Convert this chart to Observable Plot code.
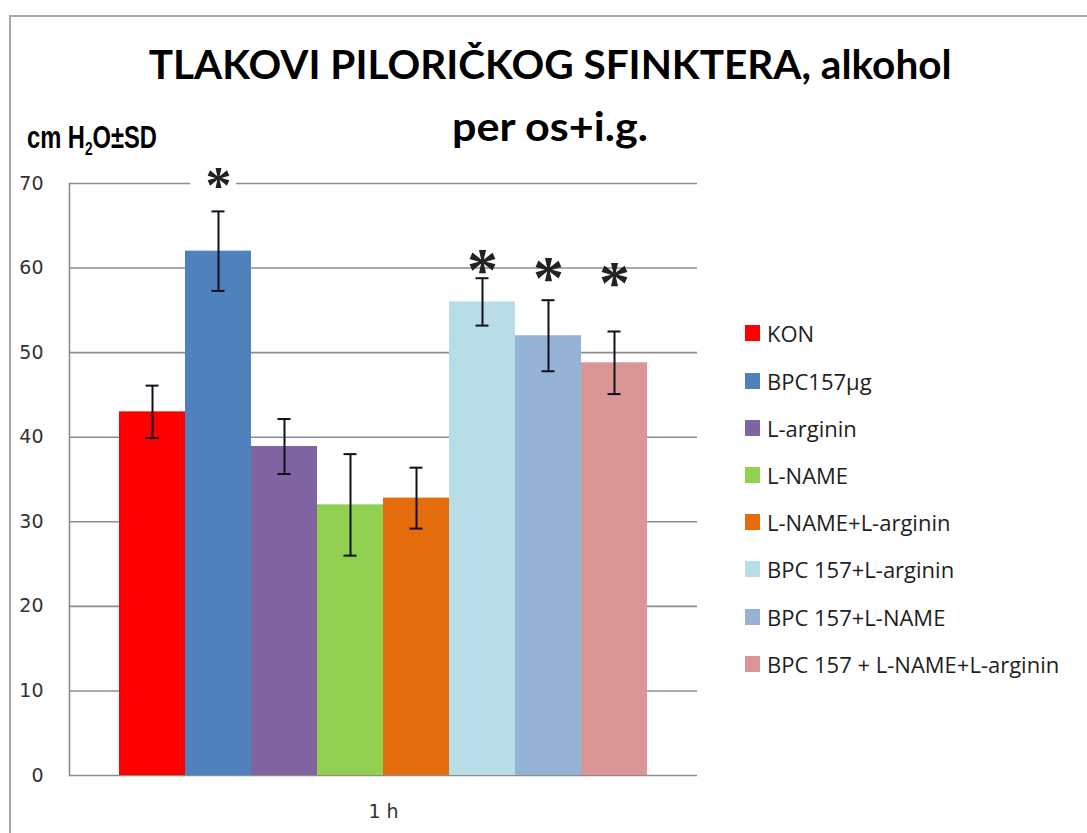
<!DOCTYPE html>
<html>
<head>
<meta charset="utf-8">
<script src="https://cdn.jsdelivr.net/npm/d3@7"></script>
<script src="https://cdn.jsdelivr.net/npm/@observablehq/plot@0.6"></script>
<style>
  body { margin: 0; background: #fff; }
  #wrap { position: relative; width: 1087px; height: 833px; overflow: hidden; background: #fff; }
  #frame { position: absolute; left: 9px; top: 15px; width: 1200px; height: 1000px;
           border-left: 2px solid #a6a6a6; border-top: 2px solid #a6a6a6; }
  #chart { position: absolute; left: 0; top: 150px; }
  .ttl { position: absolute; left: 0; width: 1101px; text-align: center; white-space: nowrap;
         font-family: Lato, "Open Sans", sans-serif; font-weight: 700; font-size: 40px; line-height: 40px; color: #000; }
  .ttl span { display: inline-block; transform-origin: 50% 50%; }
  #unit { position: absolute; left: 27px; top: 122px; white-space: nowrap; transform-origin: 0 50%;
          font-family: "Liberation Sans", Arial, sans-serif; font-weight: 700; font-size: 31px; line-height: 31px; color: #000; }
  #unit sub { font-size: 18px; vertical-align: -7px; line-height: 0; }
  #legend { position: absolute; left: 745px; top: 0; font-family: "Open Sans", sans-serif; font-size: 22px; color: #1e1e1e; }
  .row { position: absolute; left: 0; height: 20px; display: flex; align-items: center; white-space: nowrap; }
  .sw { width: 15px; height: 16px; margin-right: 7px; flex: none; }
</style>
</head>
<body>
<div id="wrap">
  <div id="frame"></div>
  <div id="chart"></div>
  <div class="ttl" style="top:44px"><span id="t1">TLAKOVI PILORIČKOG SFINKTERA, alkohol</span></div>
  <div class="ttl" style="top:106px;width:1099px"><span id="t2">per os+i.g.</span></div>
  <div id="unit">cm H<sub>2</sub>O±SD</div>
  <div id="legend"></div>
</div>
<script>
// ---- data ----
const groups = ["KON", "BPC157μg", "L-arginin", "L-NAME", "L-NAME+L-arginin",
                "BPC 157+L-arginin", "BPC 157+L-NAME", "BPC 157 + L-NAME+L-arginin"];
const means = [43, 62, 38.9, 32, 32.8, 56, 52, 48.8];
const sds = [3.1, 4.7, 3.25, 6, 3.6, 2.8, 4.2, 3.7];
const colors = ["#ff0000", "#4f81bd", "#8064a2", "#92d050", "#e46c0a", "#b7dee8", "#95b3d7", "#d99694"];
const timeLabel = ["1 h"];
const yTicks = [0, 10, 20, 30, 40, 50, 60, 70];
const starGroups = ["BPC157μg", "BPC 157+L-arginin", "BPC 157+L-NAME", "BPC 157 + L-NAME+L-arginin"];
const starY = [71.2, 61.3, 60.3, 59.7];

const data = groups.map((g, i) => ({time: timeLabel[0], group: g, mean: means[i], sd: sds[i]}));
const stars = starGroups.map((g, i) => ({time: timeLabel[0], group: g, y: starY[i]}));

const chart = Plot.plot({
  width: 720,
  height: 683,
  marginLeft: 69,
  marginRight: 23,
  marginTop: 33,
  marginBottom: 58,
  style: {background: "transparent", overflow: "visible", fontFamily: "DejaVu Sans, sans-serif", fontSize: "19px", color: "#333"},
  fx: {domain: timeLabel, padding: 0, label: null, axis: "bottom", tickSize: 0, tickPadding: 29},
  x: {domain: groups, paddingInner: 0, paddingOuter: 0.757, axis: null},
  y: {domain: [0, 70], ticks: yTicks, tickSize: 0, tickPadding: 26, label: null, tickFormat: d => String(d)},
  color: {domain: groups, range: colors},
  marks: [
    Plot.ruleY(yTicks, {stroke: "#8c8c8c", strokeWidth: 1.6}),
    Plot.frame({anchor: "left", stroke: "#8c8c8c", strokeWidth: 1.6}),
    Plot.barY(data, {fx: "time", x: "group", y: "mean", fill: "group"}),
    Plot.ruleX(data, {fx: "time", x: "group", y1: d => d.mean - d.sd, y2: d => d.mean + d.sd, stroke: "#10101c", strokeWidth: 2}),
    Plot.tickY(data, {fx: "time", x: "group", y: d => d.mean - d.sd, stroke: "#10101c", strokeWidth: 2, insetLeft: 26.5, insetRight: 26.5}),
    Plot.tickY(data, {fx: "time", x: "group", y: d => d.mean + d.sd, stroke: "#10101c", strokeWidth: 2, insetLeft: 26.5, insetRight: 26.5}),
    Plot.rect(stars.filter(d => d.group === "BPC157μg"), {fx: "time", x: "group", y1: d => d.y - 2.4, y2: d => d.y + 1.5, fill: "white", insetLeft: 5, insetRight: 15}),
    Plot.text(stars, {fx: "time", x: "group", y: "y", text: () => "*", fill: "#222", fontWeight: "bold",
      fontFamily: "Liberation Serif, serif", fontSize: d => d.group === "BPC157μg" ? 52 : 62, dy: 13, lineAnchor: "middle"})
  ]
});
document.getElementById("chart").appendChild(chart);

// legend
const legend = document.getElementById("legend");
groups.forEach((g, i) => {
  const row = document.createElement("div");
  row.className = "row";
  row.style.top = (323.3 + 47.2 * i) + "px";
  const sw = document.createElement("div");
  sw.className = "sw";
  sw.style.background = colors[i];
  const tx = document.createElement("span");
  tx.textContent = g;
  row.appendChild(sw);
  row.appendChild(tx);
  legend.appendChild(row);
});

// fit titles to the reference widths
function fit(el, w) {
  const r = el.getBoundingClientRect().width;
  if (r > 0) el.style.transform = `scaleX(${w / r})`;
}
fit(document.getElementById("t1"), 803);
fit(document.getElementById("t2"), 196);
fit(document.getElementById("unit"), 130);
</script>
</body>
</html>
